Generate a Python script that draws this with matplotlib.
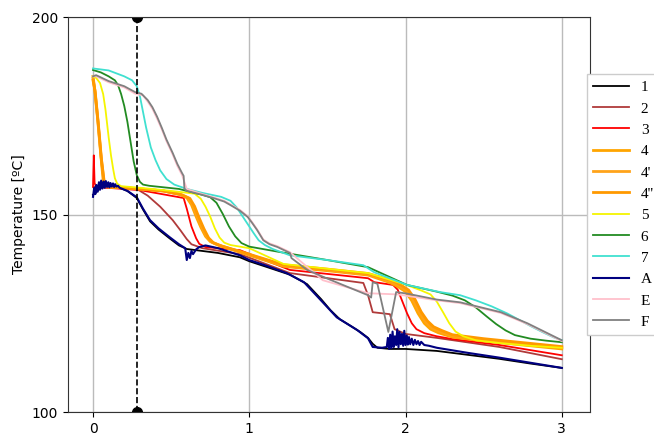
import matplotlib
matplotlib.use('Agg')
from matplotlib import pyplot as plt

# Series (time on x, temperature in degC on y).
x_1 = [0, 0.05, 0.1, 0.17, 0.22, 0.28, 0.32, 0.365, 0.42, 0.49, 0.55, 0.6, 0.7, 0.8, 0.94, 1.0, 1.1, 1.26, 1.37, 1.46,
       1.52, 1.58, 1.65, 1.71, 1.76, 1.79, 1.82, 1.9, 2.0, 2.2, 2.4, 2.6, 2.8, 3.0]
y_1 = [155, 156.8, 157.4, 156.8, 156, 154.2, 151.3, 148.3, 146.2, 144, 142.2, 141.3, 140.8, 140.3, 139.2, 138.2, 136.9,
       134.8, 132.4, 128.6, 125.8, 123.5, 121.8, 120.3, 118.8, 117.3, 116.3, 116, 116, 115.5, 114.5, 113.5, 112.3, 111.2]

x_2 = [0.005, 0.02, 0.28, 0.35, 0.43, 0.51, 0.56, 0.6, 0.63, 0.7, 0.94, 1.26, 1.73, 1.76, 1.79, 1.9, 1.93, 2.0, 2.2,
       2.6, 3.0]
y_2 = [157, 157, 156.5, 154.8, 152, 148.6, 146, 143.8, 142.5, 141.5, 140, 135.2, 132.7, 129.6, 125.3, 124.8, 121,
       119.8, 118.8, 116.5, 113.4]

x_3 = [0, 0.005, 0.01, 0.02, 0.3, 0.58, 0.6, 0.63, 0.66, 0.68, 0.72, 0.94, 1.26, 1.76, 1.8, 1.92, 1.95, 1.98, 2.01,
       2.04, 2.07, 2.12, 2.2, 2.3, 2.6, 3.0]
y_3 = [157, 165, 158, 157, 156.2, 154.2, 151.5, 147, 144, 142.6, 141.8, 141, 136, 133.9, 132.9, 132.2, 131, 128, 125,
       122.5, 121, 120, 119.2, 118.5, 117, 114.4]

x_4 = [0, 0.01, 0.03, 0.05, 0.065, 0.08, 0.1, 0.2, 0.3, 0.45, 0.55, 0.6, 0.63, 0.66, 0.69, 0.72, 0.75, 0.8, 0.94, 1.22,
       1.5, 1.76, 1.9, 1.95, 2.0, 2.04, 2.08, 2.12, 2.16, 2.21, 2.3, 2.5, 2.75, 3.0]
y_4 = [185, 182, 174, 165, 158.7, 157.3, 157, 156.8, 156.5, 156, 155.2, 154.3, 152.5, 149.5, 146.8, 144.5, 143.2,
       142.3, 140.5, 136.9, 135.8, 134.7, 132.8, 131.8, 130.5, 128.2, 125, 122.5, 121, 120.1, 119, 118, 117, 116]

x_4a = [0, 0.012, 0.032, 0.052, 0.07, 0.085, 0.1, 0.2, 0.3, 0.45, 0.56, 0.61, 0.64, 0.67, 0.7, 0.73, 0.76, 0.81, 0.94,
        1.22, 1.5, 1.76, 1.91, 1.96, 2.01, 2.05, 2.09, 2.13, 2.17, 2.22, 2.3, 2.5, 2.75, 3.0]
y_4a = [184.5, 181.5, 173.5, 164.5, 158.4, 157.2, 157, 156.8, 156.5, 156, 155.1, 154.2, 152.3, 149.3, 146.6, 144.3,
        143, 142.2, 140.6, 137.1, 136, 134.9, 133, 132, 130.7, 128.4, 125.2, 122.8, 121.3, 120.4, 119.3, 118.3, 117.3,
        116.3]

x_4b = [0, 0.014, 0.034, 0.054, 0.072, 0.088, 0.1, 0.2, 0.3, 0.45, 0.57, 0.62, 0.65, 0.68, 0.71, 0.74, 0.77, 0.82,
        0.94, 1.22, 1.5, 1.76, 1.92, 1.97, 2.02, 2.06, 2.1, 2.14, 2.18, 2.23, 2.3, 2.5, 2.75, 3.0]
y_4b = [184, 181, 173, 164, 158.2, 157.1, 157, 156.8, 156.5, 156, 155, 154.1, 152.1, 149.1, 146.4, 144.1, 142.9,
        142.1, 140.7, 137.3, 136.2, 135.1, 133.2, 132.2, 130.9, 128.6, 125.4, 123.1, 121.6, 120.7, 119.6, 118.6, 117.6,
        116.6]

x_5 = [0, 0.02, 0.045, 0.065, 0.08, 0.1, 0.115, 0.13, 0.14, 0.155, 0.18, 0.3, 0.5, 0.65, 0.69, 0.72, 0.75, 0.78, 0.81,
       0.84, 0.88, 1.0, 1.22, 1.5, 1.76, 2.0, 2.1, 2.16, 2.2, 2.24, 2.28, 2.32, 2.37, 2.45, 2.6, 2.8, 3.0]
y_5 = [185, 184.6, 183.3, 180.5, 176.5, 169.6, 165, 161.3, 159.2, 157.8, 157.2, 156.8, 156, 155.3, 154, 152, 149.5,
       146.5, 144.2, 142.9, 142.3, 141.5, 137.5, 136.3, 135.2, 132.3, 130.8, 129.8, 128, 125.3, 122.5, 120.4, 119.2,
       118.2, 117.5, 116.8, 116.3]

x_6 = [0, 0.05, 0.1, 0.14, 0.16, 0.18, 0.2, 0.22, 0.24, 0.26, 0.28, 0.3, 0.32, 0.36, 0.55, 0.7, 0.75, 0.79, 0.83, 0.87,
       0.91, 0.95, 1.0, 1.2, 1.5, 1.76, 2.01, 2.2, 2.3, 2.38, 2.45, 2.52, 2.58, 2.64, 2.7, 2.8, 2.9, 3.0]
y_6 = [186.6, 186, 185, 184, 182.8, 180.5, 177.5, 173.5, 168.5, 163.5, 160, 158.3, 157.6, 157.3, 156.5, 155, 154.4,
       153, 150.2, 147, 144.5, 142.8, 141.9, 140.5, 138.5, 136.7, 132.2, 130.5, 129.5, 128.3, 126.5, 124.2, 122.3,
       120.7, 119.5, 118.6, 118.1, 117.7]

x_7 = [0, 0.1, 0.2, 0.25, 0.28, 0.3, 0.32, 0.34, 0.37, 0.4, 0.43, 0.47, 0.52, 0.6, 0.7, 0.82, 0.88, 0.92, 0.96, 1.0,
       1.03, 1.06, 1.1, 1.15, 1.26, 1.5, 1.73, 1.8, 2.01, 2.22, 2.35, 2.45, 2.55, 2.65, 2.73, 2.8, 2.88, 2.95, 3.0]
y_7 = [187, 186.5, 185, 184, 182.5, 180, 176, 172, 167, 163.8, 161.2, 159, 157.6, 156.5, 155.5, 154.5, 153.5, 151.8,
       149.4, 147, 145.2, 143.5, 142.3, 141.3, 139.7, 138.5, 137.2, 135.4, 132.2, 130.4, 129.6, 128.3, 126.8, 125,
       123.3, 121.8, 120.2, 118.9, 118.2]

x_A = [0, 0.008, 0.015, 0.022, 0.03, 0.038, 0.045, 0.052, 0.06, 0.068, 0.075, 0.082, 0.09, 0.098, 0.105, 0.112, 0.12,
       0.128, 0.135, 0.142, 0.15, 0.16, 0.17, 0.22, 0.28, 0.32, 0.365, 0.42, 0.49, 0.55, 0.59, 0.6, 0.61, 0.62, 0.63,
       0.64, 0.66, 0.68, 0.72, 0.8, 0.94, 1.0, 1.1, 1.24, 1.35, 1.44, 1.56, 1.69, 1.76, 1.79, 1.85, 1.88, 1.887, 1.895,
       1.902, 1.91, 1.917, 1.925, 1.932, 1.94, 1.947, 1.955, 1.962, 1.97, 1.977, 1.985, 1.992, 2.0, 2.008, 2.015, 2.022,
       2.03, 2.04, 2.05, 2.06, 2.07, 2.08, 2.09, 2.1, 2.12, 2.15, 2.2, 2.4, 2.6, 2.8, 3.0]
y_A = [154.5, 156.8, 155.2, 157.5, 155.8, 158.2, 156.3, 158.6, 156.6, 158.4, 156.8, 158.5, 157, 158.2, 156.9, 158, 157.1,
       157.9, 157, 157.7, 157.1, 157.3, 156.8, 156, 154.4, 151.5, 148.6, 146.5, 144.3, 142.5, 141.5, 138.5, 140.3, 139,
       140.8, 140, 141.2, 141.8, 142.2, 141.5, 139.7, 138.5, 137.2, 135.2, 132.9, 129.1, 124, 120.8, 118.7, 116.5,
       116.3, 116.5, 118.8, 116, 119.6, 116.2, 120.4, 116.5, 119.2, 117, 121, 116.4, 120.3, 117.2, 119.8, 116.8, 120.6,
       117, 119.4, 117.1, 119, 117.2, 118.6, 117, 118.3, 117.2, 118, 117, 117.8, 117, 116.8, 116.3, 115, 113.8, 112.5,
       111.2]

x_E = [0, 0.02, 0.1, 0.2, 0.27, 0.32, 0.35, 0.38, 0.41, 0.44, 0.47, 0.51, 0.54, 0.57, 0.6, 0.7, 0.77, 0.84, 0.88, 0.94,
       0.99, 1.02, 1.05, 1.09, 1.13, 1.18, 1.26, 1.47, 1.76, 1.95, 2.2, 2.35, 2.61, 2.78, 3.0]
y_E = [185, 185, 183.5, 182.2, 180.6, 180.2, 178.6, 176.8, 174.3, 171.6, 168.6, 165.2, 162.3, 160, 156.5, 155.2, 154.4,
       153.5, 152.6, 151.2, 149.6, 148, 146.3, 143.7, 142.7, 142, 140.5, 133.4, 130.1, 129.8, 128.3, 127.6, 125.1, 122.3,
       118.0]

x_F = [0, 0.02, 0.1, 0.2, 0.27, 0.31, 0.35, 0.38, 0.41, 0.44, 0.47, 0.51, 0.54, 0.57, 0.58, 0.585, 0.6, 0.7, 0.77, 0.84,
       0.88, 0.94, 0.99, 1.02, 1.05, 1.09, 1.13, 1.18, 1.26, 1.27, 1.37, 1.5, 1.76, 1.78, 1.79, 1.82, 1.89, 1.94, 2.01,
       2.2, 2.35, 2.61, 2.78, 3.0]
y_F = [185, 185.3, 183.8, 182.5, 181, 180.6, 179, 177.2, 174.8, 172, 169, 165.6, 162.8, 160.5, 159.8, 156.5, 156, 155,
       154.2, 153.3, 152.4, 151, 149.4, 147.8, 146.1, 143.5, 142.5, 141.8, 140.3, 139, 136, 133.8, 129.6, 129, 132.9,
       132.5, 120.3, 130.4, 130, 128.5, 127.8, 125.3, 122.5, 118.2]

labels = ['1', '2', '3', '4', "4'", "4''", '5', '6', '7', 'A', 'E', 'F']
xs = [x_1, x_2, x_3, x_4, x_4a, x_4b, x_5, x_6, x_7, x_A, x_E, x_F]
ys = [y_1, y_2, y_3, y_4, y_4a, y_4b, y_5, y_6, y_7, y_A, y_E, y_F]
colors = ['black', '#b03a3a', 'red', 'orange', '#ffa31a', '#ff9900', '#f5f500', '#228b22', '#40e0d0', 'navy',
          'pink', 'gray']
widths = [1.3, 1.3, 1.3, 2.0, 2.0, 2.0, 1.3, 1.3, 1.3, 1.5, 1.3, 1.3]

cursor_x = 0.28


def main():
    fig = plt.figure(figsize=(6.54, 4.38), dpi=100)
    ax = fig.add_axes([0.104, 0.059, 0.798, 0.902])

    for x, y, label, color, lw in zip(xs, ys, labels, colors, widths):
        ax.plot(x, y, color=color, lw=lw, label=label)

    ax.plot([cursor_x, cursor_x], [100, 200], 'k--', lw=1.2, marker='o', markersize=7)

    ax.set_xlim(-0.16, 3.18)
    ax.set_ylim(100, 200)
    ax.set_xticks([0, 1, 2, 3])
    ax.set_yticks([100, 150, 200])
    ax.grid(True, color='#bbbbbb', lw=1)
    ax.set_axisbelow(True)
    ax.set_ylabel('Temperature [ºC]', fontsize=10)
    for spine in ax.spines.values():
        spine.set_color('#333333')

    ax.legend(loc='upper left', bbox_to_anchor=(0.995, 0.855), prop={'family': 'Liberation Serif', 'size': 11},
              handlelength=2.3, fancybox=False, framealpha=1, edgecolor='#cccccc', borderaxespad=0)

    fig.savefig('out.png', dpi=100)
    plt.close()


if __name__ == '__main__':
    main()
